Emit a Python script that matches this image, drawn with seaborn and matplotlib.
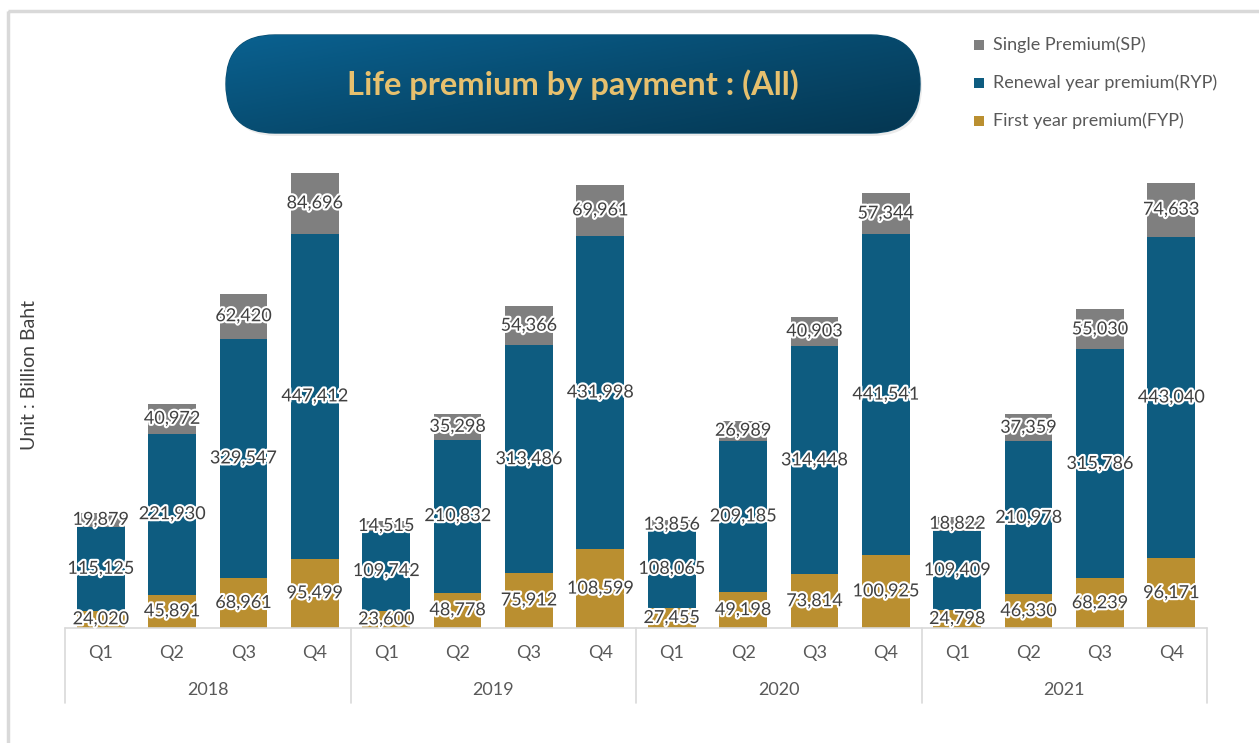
#---------------------------------------------------------------
# Life premium by payment : (All) -- stacked quarterly bars
#---------------------------------------------------------------
import matplotlib
matplotlib.use('Agg')
import matplotlib.pyplot as plt
import matplotlib.patheffects as pe
from matplotlib.patches import FancyBboxPatch, Rectangle
from matplotlib.colors import LinearSegmentedColormap
import matplotlib.transforms as mtrans
import numpy as np
import pandas as pd
import seaborn as sns

#---------------------------------------------------------------
years = ['2018', '2019', '2020', '2021']
quarters = ['Q1', 'Q2', 'Q3', 'Q4']

fyp = [24020, 45891, 68961, 95499,
       23600, 48778, 75912, 108599,
       27455, 49198, 73814, 100925,
       24798, 46330, 68239, 96171]
ryp = [115125, 221930, 329547, 447412,
       109742, 210832, 313486, 431998,
       108065, 209185, 314448, 441541,
       109409, 210978, 315786, 443040]
sp = [19879, 40972, 62420, 84696,
      14515, 35298, 54366, 69961,
      13856, 26989, 40903, 57344,
      18822, 37359, 55030, 74633]

series_names = ['Single Premium(SP)', 'Renewal year premium(RYP)', 'First year premium(FYP)']
title = 'Life premium by payment : (All)'
ylabel = 'Unit : Billion Baht'

c_sp = '#7F7F7F'
c_ryp = '#0E5C80'
c_fyp = '#BA8F30'
c_text = '#404040'
c_axis = '#595959'
c_line = '#D9D9D9'


#---------------------------------------------------------------
def main():
    sns.set_theme(style = 'white')
    plt.rcParams['font.family'] = ['Lato', 'DejaVu Sans']

    periods = [f'{y} {q}' for y in years for q in quarters]
    df = pd.DataFrame({'period': periods, 'fyp': fyp, 'ryp': ryp, 'sp': sp})
    df['fyp_ryp'] = df['fyp'] + df['ryp']
    df['total'] = df['fyp_ryp'] + df['sp']

    W, H = 1259, 743
    fig = plt.figure(figsize = (W / 100, H / 100), dpi = 100)

    # overlay in pixel coordinates for frame, title box and legend
    ov = fig.add_axes([0, 0, 1, 1], zorder = 0)
    ov.set_axis_off()

    ax = fig.add_axes([65 / W, (H - 628) / H, 1142 / W, 600 / H], zorder = 1)
    ax.patch.set_alpha(0)

    for col, color in [('total', c_sp), ('fyp_ryp', c_ryp), ('fyp', c_fyp)]:
        sns.barplot(data = df, x = 'period', y = col, order = periods, color = color,
                    saturation = 1, errorbar = None, width = 0.67, linewidth = 0, ax = ax)

    ax.set_xlim(-0.5, len(periods) - 0.5)
    ax.set_ylim(0, 827000)
    ax.set_xticks([])
    ax.set_yticks([])
    ax.set_xlabel('')
    ax.set_ylabel('')
    sns.despine(ax = ax, left = True, bottom = True)

    # data labels centred in each segment
    halo = [pe.withStroke(linewidth = 3, foreground = 'white')]
    for i, row in df.iterrows():
        mids = [row['fyp'] / 2, row['fyp'] + row['ryp'] / 2, row['fyp_ryp'] + row['sp'] / 2]
        vals = [row['fyp'], row['ryp'], row['sp']]
        for m, v in zip(mids, vals):
            ax.text(i, m, f'{v:,}', ha = 'center', va = 'center', fontsize = 13,
                    color = c_text, path_effects = halo, zorder = 5)

    # multi-level category axis
    tr = mtrans.blended_transform_factory(ax.transData, ax.transAxes)
    ax.plot([-0.5, len(periods) - 0.5], [0, 0], transform = tr, color = c_line,
            lw = 1.2, clip_on = False)
    for k in range(len(years) + 1):
        xs = k * len(quarters) - 0.5
        ax.plot([xs, xs], [0, -0.125], transform = tr, color = c_line, lw = 1.2, clip_on = False)
    for i, p in enumerate(periods):
        ax.text(i, -0.0417, p.split()[1], transform = tr, ha = 'center', va = 'center',
                fontsize = 13, color = c_axis)
    for k, y in enumerate(years):
        ax.text(k * len(quarters) + 1.5, -0.1033, y, transform = tr, ha = 'center',
                va = 'center', fontsize = 13, color = c_axis)

    # overlay: outer frame, y label, title pill, legend
    ov.set_xlim(0, W)
    ov.set_ylim(H, 0)
    ov.add_patch(Rectangle((8, 10.5), W, H, fill = False, ec = c_line, lw = 2.5))
    ov.text(30, 375, ylabel, rotation = 90, ha = 'center', va = 'center',
            fontsize = 14, color = c_text)

    bx, by, bw, bh = 226, 35, 694, 98
    shadow = FancyBboxPatch((bx + 2, by + 3), bw, bh, boxstyle = f'round,pad=0,rounding_size={bh / 2}',
                            fc = '#000000', ec = 'none', alpha = 0.08)
    ov.add_patch(shadow)
    pill = FancyBboxPatch((bx, by), bw, bh, boxstyle = f'round,pad=0,rounding_size={bh / 2}',
                          fc = 'none', ec = '#0A4D70', lw = 1)
    ov.add_patch(pill)
    gx, gy = np.meshgrid(np.linspace(0, 1, 300), np.linspace(0, 1, 60))
    grad = 0.55 * gx + 0.45 * gy
    cmap = LinearSegmentedColormap.from_list('pill', ['#0A6190', '#074B6F', '#053752'])
    im = ov.imshow(grad, cmap = cmap, extent = (bx, bx + bw, by + bh, by), origin = 'upper',
                   aspect = 'auto', interpolation = 'bilinear', zorder = 1)
    im.set_clip_path(pill)
    ov.text(bx + bw / 2, by + bh / 2 + 1, title, ha = 'center', va = 'center', fontsize = 23.5,
            fontweight = 'bold', color = '#E6C06E', zorder = 3)
    ov.set_xlim(0, W)
    ov.set_ylim(H, 0)

    for j, (name, color) in enumerate(zip(series_names, [c_sp, c_ryp, c_fyp])):
        yy = 45 + 38 * j
        ov.add_patch(Rectangle((974, yy - 5), 10, 10, fc = color, ec = 'none'))
        ov.text(993, yy, name, ha = 'left', va = 'center', fontsize = 13, color = c_axis)

    fig.savefig('out.png', dpi = 100)


#---------------------------------------------------------------
if __name__ == '__main__':
    main()
